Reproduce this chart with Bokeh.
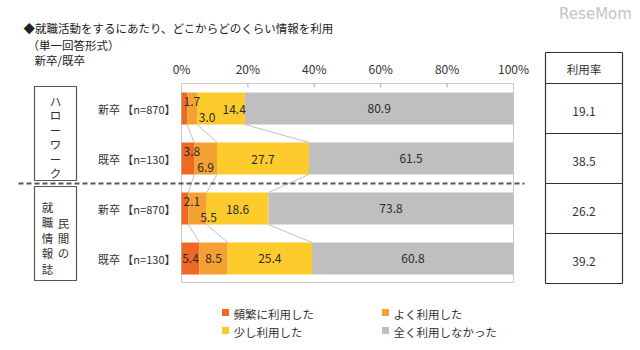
from bokeh.plotting import figure
from bokeh.models import Range1d, ColumnDataSource
from bokeh.core.properties import value
from bokeh.embed import file_html
from bokeh.resources import INLINE

# ---------------- data ----------------
title_lines = ["◆就職活動をするにあたり、どこからどのくらい情報を利用", "（単一回答形式）", "新卒/既卒"]
row_labels = ["新卒 【n=870】", "既卒 【n=130】", "新卒 【n=870】", "既卒 【n=130】"]
group_a = "ハローワーク"
group_b_right = "民間の"
group_b_left = "就職情報誌"
series_names = ["頻繁に利用した", "よく利用した", "少し利用した", "全く利用しなかった"]
freq = [1.7, 3.8, 2.1, 5.4]
often = [3.0, 6.9, 5.5, 8.5]
little = [14.4, 27.7, 18.6, 25.4]
never = [80.9, 61.5, 73.8, 60.8]
usage_header = "利用率"
usage_rate = [19.1, 38.5, 26.2, 39.2]
ticks = [0, 20, 40, 60, 80, 100]
tick_labels = ["0%", "20%", "40%", "60%", "80%", "100%"]
colors = ["#EE6A24", "#F5A033", "#FDCB2C", "#BFBFBF"]

# ---------------- layout helpers (pixel -> data) ----------------
W, H = 640, 350
X0, PXPCT = 181.0, 3.32      # pixel of 0 %, pixels per percent
Y0, PXROW = 108.0, 50.0      # pixel of first row centre, pixels per row


def X(px):
    return (px - X0) / PXPCT


def Y(py):
    return (py - Y0) / PXROW


FONT = value("Noto Sans CJK JP")
TXT = "#333333"

p = figure(width=W, height=H, x_range=Range1d(X(0), X(W)), y_range=Range1d(Y(H), Y(0)),
           x_axis_location=None, y_axis_location=None, toolbar_location=None,
           output_backend="svg", min_border=0)
p.grid.visible = False
p.outline_line_color = None
p.background_fill_color = "white"
p.border_fill_color = "white"

n = len(freq)
rows = list(range(n))
keys = ["freq", "often", "little", "never"]
src = ColumnDataSource(dict(row=rows, freq=freq, often=often, little=little, never=never))

# plot frame + ticks
p.quad(left=[0], right=[100], top=[-0.5], bottom=[Y(282)], fill_color=None,
       line_color="#C8C8C8", line_width=1)
p.segment(x0=ticks[1:-1], x1=ticks[1:-1], y0=[-0.5] * 4, y1=[Y(87)] * 4,
          line_color="#AAAAAA", line_width=1)
p.text(x=ticks, y=[Y(68)] * len(ticks), text=tick_labels, text_align="center",
       text_baseline="middle", text_font=FONT, text_font_size="12px", text_color=TXT)

# stacked bars
p.hbar_stack(keys, y="row", height=0.64, color=colors, source=src, line_width=0)

# series connector lines between consecutive bars
c1 = [a for a in freq]
c2 = [a + b for a, b in zip(freq, often)]
c3 = [a + b + c for a, b, c in zip(freq, often, little)]
sx0, sx1, sy0, sy1 = [], [], [], []
for i in range(n - 1):
    for c in (c1, c2, c3):
        sx0.append(c[i]); sx1.append(c[i + 1])
        sy0.append(i + 0.32); sy1.append(i + 1 - 0.32)
p.segment(x0=sx0, x1=sx1, y0=sy0, y1=sy1, line_color="#B0B0B0", line_width=0.8)

# value labels
lx, ly, lt, la = [], [], [], []
for i in range(n):
    f, o, l, nv = freq[i], often[i], little[i], never[i]
    stagger = f < 5
    if stagger:
        lx.append(X(X0 + 2)); ly.append(i - 0.14); lt.append(f"{f}"); la.append("left")
        if o * PXPCT >= 20:
            ocx_px = X0 + (f + o / 2) * PXPCT
        else:
            ocx_px = X0 + f * PXPCT + 12 + 8
        lx.append(X(ocx_px)); ly.append(i + 0.18); lt.append(f"{o}"); la.append("center")
        lmid_px = X0 + (f + o + l / 2) * PXPCT
        lx.append(X(max(lmid_px, ocx_px + 27))); ly.append(i + 0.02); lt.append(f"{l}"); la.append("center")
    else:
        lx.append(f / 2); ly.append(i); lt.append(f"{f}"); la.append("center")
        lx.append(f + o / 2); ly.append(i); lt.append(f"{o}"); la.append("center")
        lx.append(f + o + l / 2); ly.append(i); lt.append(f"{l}"); la.append("center")
    lx.append(f + o + l + nv / 2); ly.append(i); lt.append(f"{nv}"); la.append("center")
p.text(x=lx, y=ly, text=lt, text_align=la, text_baseline="middle", text_font=FONT,
       text_font_size="12px", text_color="#2b2b2b")

# row labels
p.text(x=[X(175)] * n, y=rows, text=row_labels, text_align="right", text_baseline="middle",
       text_font=FONT, text_font_size="11px", text_color=TXT)

# dashed separator
p.segment(x0=[X(18)], x1=[X(524)], y0=[1.5], y1=[1.5], line_color="#555555",
          line_width=2, line_dash="5 3")

# group boxes
p.quad(left=[X(34), X(34)], right=[X(76), X(76)], top=[Y(86), Y(186)], bottom=[Y(180), Y(280)],
       fill_color=None, line_color="#555555", line_width=1.2)
ga_y = [Y(100 + 14.5 * j) for j in range(len(group_a))]
p.text(x=[X(55)] * len(group_a), y=ga_y, text=list(group_a), text_align="center",
       text_baseline="middle", text_font=FONT, text_font_size="11.5px", text_color=TXT)
gbr_y = [Y(222 + 15 * j) for j in range(len(group_b_right))]
p.text(x=[X(63)] * len(group_b_right), y=gbr_y, text=list(group_b_right), text_align="center",
       text_baseline="middle", text_font=FONT, text_font_size="11.5px", text_color=TXT)
gbl_y = [Y(206 + 15.5 * j) for j in range(len(group_b_left))]
p.text(x=[X(47)] * len(group_b_left), y=gbl_y, text=list(group_b_left), text_align="center",
       text_baseline="middle", text_font=FONT, text_font_size="11.5px", text_color=TXT)

# title
p.text(x=[X(23), X(27), X(34)], y=[Y(27), Y(44), Y(59)], text=title_lines, text_align="left",
       text_baseline="middle", text_font=FONT, text_font_size="11.5px", text_color="#222222")

# usage-rate table
tl, tr = X(545), X(622)
hlines_y = [Y(52)] + [i - 0.5 for i in range(n + 1)]
p.segment(x0=[tl] * len(hlines_y), x1=[tr] * len(hlines_y), y0=hlines_y, y1=hlines_y,
          line_color="#333333", line_width=1.2)
p.segment(x0=[tl, tr], x1=[tl, tr], y0=[Y(52)] * 2, y1=[n - 0.5] * 2,
          line_color="#333333", line_width=1.2)
tc = (tl + tr) / 2
p.text(x=[tc], y=[Y(68)], text=[usage_header], text_align="center", text_baseline="middle",
       text_font=FONT, text_font_size="11.5px", text_color=TXT)
p.text(x=[tc] * n, y=[r + 0.05 for r in rows], text=[f"{v}" for v in usage_rate],
       text_align="center", text_baseline="middle", text_font=FONT, text_font_size="12px",
       text_color=TXT)

# legend
leg_px = [(225, 312), (385, 312), (225, 330), (385, 330)]
p.scatter(x=[X(a) for a, b in leg_px], y=[Y(b) for a, b in leg_px], marker="square", size=7,
          color=colors, line_width=0)
p.text(x=[X(a + 8) for a, b in leg_px], y=[Y(b + 1) for a, b in leg_px], text=series_names,
       text_align="left", text_baseline="middle", text_font=FONT, text_font_size="11.5px",
       text_color=TXT)

# watermark
p.text(x=[X(595)], y=[Y(13)], text=["ReseMom"], text_align="center", text_baseline="middle",
       text_font=value("DejaVu Sans"), text_font_size="15px", text_color="#c4c4c4")

open("out.html", "w").write(file_html(p, INLINE))
